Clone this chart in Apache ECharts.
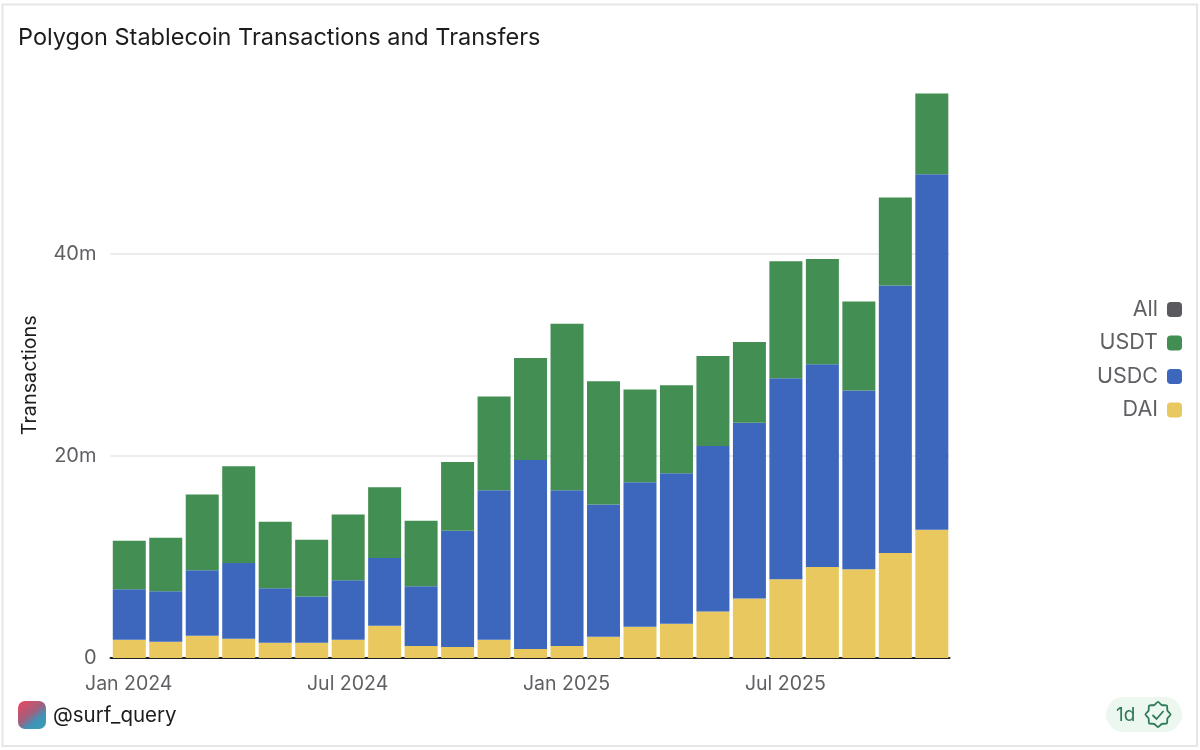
<!DOCTYPE html>
<html><head><meta charset="utf-8">
<style>html,body{margin:0;padding:0;background:#fff}#c{width:1200px;height:750px}</style>
<script src="https://cdn.jsdelivr.net/npm/echarts@6/dist/echarts.min.js"></script></head>
<body><div id="c"></div>
<script>
const categories=['Jan 2024','Feb 2024','Mar 2024','Apr 2024','May 2024','Jun 2024','Jul 2024','Aug 2024','Sep 2024','Oct 2024','Nov 2024','Dec 2024','Jan 2025','Feb 2025','Mar 2025','Apr 2025','May 2025','Jun 2025','Jul 2025','Aug 2025','Sep 2025','Oct 2025','Nov 2025'];
const dai=[1.8,1.6,2.2,1.9,1.5,1.5,1.8,3.2,1.2,1.1,1.8,0.9,1.2,2.1,3.1,3.4,4.6,5.9,7.8,9.0,8.8,10.4,12.7];
const usdc=[5.0,5.0,6.5,7.5,5.4,4.6,5.9,6.7,5.9,11.5,14.8,18.7,15.4,13.1,14.3,14.9,16.4,17.4,19.9,20.1,17.7,26.5,35.2];
const usdt=[4.8,5.3,7.5,9.6,6.6,5.6,6.5,7.0,6.5,6.8,9.3,10.1,16.5,12.2,9.2,8.7,8.9,8.0,11.6,10.4,8.8,8.7,8.0];
const font='Inter';
const bar=(name,data,color)=>({name,type:'bar',stack:'t',data,barWidth:33,itemStyle:{color}});
const badgePoints=[];
for(let i=0;i<16;i++){const r=i%2?10.2:12.6,a=-Math.PI/2+i*Math.PI/8;badgePoints.push([1158+r*Math.cos(a),714.5+r*Math.sin(a)]);}
const chart=echarts.init(document.getElementById('c'),null,{renderer:'canvas'});
chart.setOption({
 animation:false,backgroundColor:'#fff',
 textStyle:{fontFamily:font},
 title:{text:'Polygon Stablecoin Transactions and Transfers',left:18,top:26,padding:0,textStyle:{fontFamily:font,fontSize:23.5,fontWeight:400,color:'#1c1c1e'}},
 grid:{left:110.5,right:250.5,top:92.5,bottom:92},
 legend:{orient:'vertical',right:18,top:298.5,padding:0,align:'right',itemWidth:15,itemHeight:15,itemGap:11.5,icon:'roundRect',
  data:['All','USDT','USDC','DAI'],textStyle:{fontFamily:font,fontSize:21.5,color:'#5f5f64',padding:[0,4,0,0]}},
 xAxis:{type:'category',data:categories,
  axisLine:{lineStyle:{color:'#222',width:2}},axisTick:{show:false},
  axisLabel:{interval:5,fontSize:19.5,color:'#5f5f64',margin:16}},
 yAxis:{type:'value',min:0,max:56,interval:20,name:'Transactions',nameLocation:'middle',nameGap:70,
  nameTextStyle:{fontFamily:font,fontSize:19.8,color:'#1c1c1e'},
  axisLine:{show:false},axisTick:{show:false},
  splitLine:{showMaxLine:false,lineStyle:{color:'#e6e6e6',width:1.5}},
  axisLabel:{fontSize:20,color:'#5f5f64',margin:14,showMaxLabel:false,formatter:v=>v===0?'0':v+'m'}},
 series:[
  {name:'All',type:'bar',stack:'all',data:[],itemStyle:{color:'#5a5a5e'}},
  bar('DAI',dai,'#e9c85f'),bar('USDC',usdc,'#3c67bd'),bar('USDT',usdt,'#438e52')],
 graphic:[
  {type:'rect',shape:{x:2.5,y:4.5,width:1194.5,height:741.5},style:{fill:'none',stroke:'#e6e6e6',lineWidth:2},silent:true,z:-1},
  {type:'rect',shape:{x:18,y:701,width:28,height:28,r:7},style:{fill:new echarts.graphic.LinearGradient(0.1,0,0.9,1,[{offset:0,color:'#e8485f'},{offset:0.45,color:'#a0607f'},{offset:0.7,color:'#3f93b8'},{offset:1,color:'#3a9cb5'}])}},
  {type:'text',x:53,y:716,style:{text:'@surf_query',fontFamily:font,fontSize:20.5,fill:'#1c1c1e',verticalAlign:'middle'}},
  {type:'rect',shape:{x:1106,y:697,width:76,height:35,r:17.5},style:{fill:'#ecf7ef'}},
  {type:'text',x:1116,y:715,style:{text:'1d',fontFamily:font,fontSize:19,fill:'#2f7a57',verticalAlign:'middle'}},
  {type:'polygon',shape:{points:badgePoints,smooth:0.2},style:{fill:'none',stroke:'#2f7a57',lineWidth:1.8,lineJoin:'round'}},
  {type:'polyline',shape:{points:[[1152.5,715],[1156.5,719],[1163.5,711]]},style:{fill:'none',stroke:'#2f7a57',lineWidth:1.8}}
 ]
});
</script></body></html>
